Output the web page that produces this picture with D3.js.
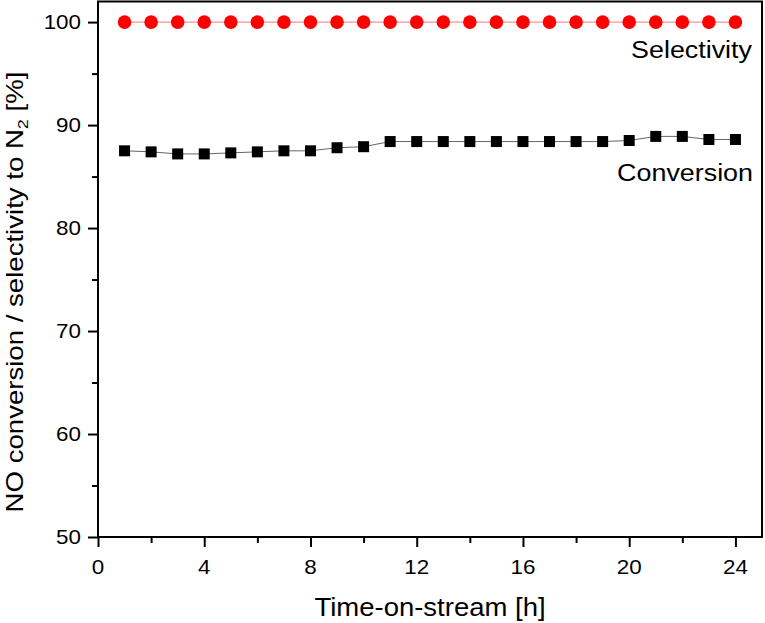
<!DOCTYPE html>
<html><head><meta charset="utf-8">
<script src="https://cdn.jsdelivr.net/npm/d3@7"></script>
<style>body{margin:0;background:#fff}svg{display:block}text{font-family:"Liberation Sans",Arial,sans-serif;fill:#000}</style>
</head><body><svg id="c" width="765" height="623"></svg>
<script>
const hours = [1,2,3,4,5,6,7,8,9,10,11,12,13,14,15,16,17,18,19,20,21,22,23,24];
const conversion = [87.5,87.4,87.2,87.2,87.3,87.4,87.5,87.5,87.8,87.9,88.4,88.4,88.4,88.4,88.4,88.4,88.4,88.4,88.4,88.5,88.9,88.9,88.6,88.6];
const selectivity = [100,100,100,100,100,100,100,100,100,100,100,100,100,100,100,100,100,100,100,100,100,100,100,100];
const xTicks = [0,4,8,12,16,20,24];
const xMinor = [2,6,10,14,18,22];
const yTicks = [50,60,70,80,90,100];
const yMinor = [55,65,75,85,95];

const svg = d3.select("#c");
const L = 98, R = 762, T = 1.5, B = 537;
const x = d3.scaleLinear().domain([0,25]).range([L,R]);
const y = d3.scaleLinear().domain([50,102]).range([B,T]);

function label(x0,y0,str,size,anchor,sx){
  const g = svg.append("g").attr("transform",`translate(${x0},${y0})`);
  const t = g.append("text").attr("transform",`scale(${sx},1)`).attr("font-size",size).attr("text-anchor",anchor);
  return t.text(str);
}

// axes
const xAx = svg.append("g").attr("transform",`translate(0,${B})`)
  .call(d3.axisBottom(x).tickValues(xTicks).tickSize(10).tickFormat(""));
const xAxm = svg.append("g").attr("transform",`translate(0,${B})`)
  .call(d3.axisBottom(x).tickValues(xMinor).tickSize(6).tickFormat(""));
const yAx = svg.append("g").attr("transform",`translate(${L},0)`)
  .call(d3.axisLeft(y).tickValues(yTicks).tickSize(10).tickFormat(""));
const yAxm = svg.append("g").attr("transform",`translate(${L},0)`)
  .call(d3.axisLeft(y).tickValues(yMinor).tickSize(6).tickFormat(""));
[xAx,xAxm,yAx,yAxm].forEach(a=>{a.select(".domain").remove();a.selectAll("line").attr("stroke","#000").attr("stroke-width",2);});

xTicks.forEach(v=>label(x(v),574,String(v),20,"middle",1.12));
yTicks.forEach(v=>label(81,y(v)+7.2,String(v),20,"end",1.12));

// frame
svg.append("rect").attr("x",L).attr("y",T).attr("width",R-L).attr("height",B-T)
  .attr("fill","none").attr("stroke","#000").attr("stroke-width",2);

// lines
const line = d3.line().x((d,i)=>x(hours[i])).y(d=>y(d));
svg.append("path").datum(conversion).attr("d",line).attr("fill","none").attr("stroke","#666").attr("stroke-width",1);
svg.append("path").datum(selectivity).attr("d",line).attr("fill","none").attr("stroke","#ff7878").attr("stroke-width",1);

// markers
svg.selectAll("rect.sq").data(conversion).enter().append("rect").attr("class","sq")
  .attr("x",(d,i)=>x(hours[i])-5.5).attr("y",d=>y(d)-5.5).attr("width",11).attr("height",11).attr("fill","#000");
svg.selectAll("circle.ci").data(selectivity).enter().append("circle").attr("class","ci")
  .attr("cx",(d,i)=>x(hours[i])).attr("cy",d=>y(d)).attr("r",6.8).attr("fill","#ff0000");

// series labels
label(752,58,"Selectivity",24,"end",1.12);
label(753,181,"Conversion",24,"end",1.12);

// axis titles
label(430,616,"Time-on-stream [h]",25,"middle",1.1);
const yt = svg.append("g").attr("transform","translate(23,292) rotate(-90)")
  .append("text").attr("transform",`scale(1.2,1)`).attr("font-size",23).attr("text-anchor","middle");
yt.append("tspan").text("NO conversion / selectivity to N");
yt.append("tspan").attr("font-size",15).attr("dy",5).text("2");
yt.append("tspan").attr("dy",-5).text(" [%]");
</script></body></html>
